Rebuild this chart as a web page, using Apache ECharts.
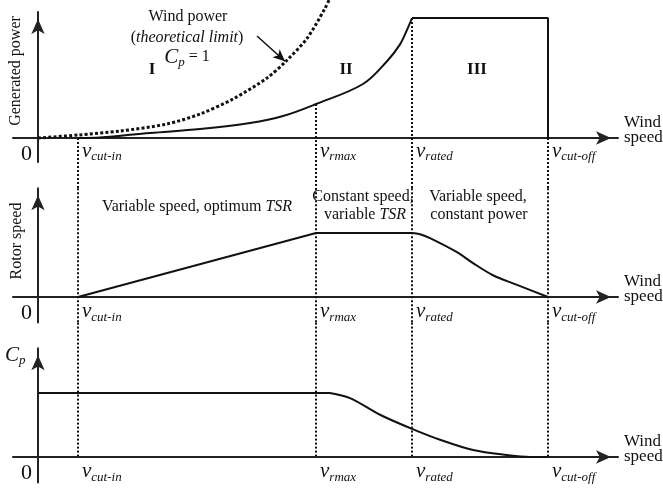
<!DOCTYPE html>
<html>
<head>
<meta charset="utf-8">
<script src="https://cdn.jsdelivr.net/npm/echarts@6/dist/echarts.min.js"></script>
<style>
  html, body { margin: 0; padding: 0; background: #fff; }
  #chart { width: 663px; height: 490px; }
</style>
</head>
<body>
<div id="chart"></div>
<script>
// wind speeds of the operating points (arbitrary units, origin = 0)
const vCutIn = 2.0
const vRmax = 13.9
const vRated = 18.7
const vCutOff = 25.5
const vNames = ['cut-in', 'rmax', 'rated', 'cut-off']

// generated power, 1 = rated power
const windPower = [[0, 0], [2, 0.025], [4.1, 0.058], [6.45, 0.117], [8.1, 0.2], [9.75, 0.325],
  [11.45, 0.5], [12.4, 0.64], [13.45, 0.83], [14.35, 1.08], [14.55, 1.15]]
const powerCurve = [[2, 0], [3.1, 0.004], [5.6, 0.042], [8.1, 0.075], [10.6, 0.125], [12.25, 0.183],
  [13.9, 0.283], [16.25, 0.45], [17.45, 0.64], [18.1, 0.78], [18.5, 0.92], [18.7, 1]]
const ratedPower = [[18.7, 1], [25.5, 1], [25.5, 0]]

// rotor speed, 1 = max rotor speed
const rotorRamp = [[2, 0], [13.9, 1], [18.7, 1]]
const rotorDrop = [[18.7, 1], [19.1, 0.98], [19.6, 0.92], [20.95, 0.7], [21.75, 0.53], [22.75, 0.34],
  [23.95, 0.19], [25.5, 0]]

// power coefficient, 1 = optimum Cp
const cpFlat = [[0, 1], [14.6, 1]]
const cpDrop = [[14.6, 1], [15.6, 0.92], [17.1, 0.66], [18.7, 0.44], [20.1, 0.27], [21.75, 0.11],
  [23.45, 0.03], [24.6, 0], [25.5, 0]]

const serif = 'Liberation Serif'
const ink = '#111'
const rich = {
  v: { fontFamily: serif, fontStyle: 'italic', fontSize: 21, lineHeight: 24, color: ink },
  s: { fontFamily: serif, fontStyle: 'italic', fontSize: 13, lineHeight: 12, verticalAlign: 'bottom', color: ink },
  i: { fontFamily: serif, fontStyle: 'italic', fontSize: 16, color: ink },
  n: { fontFamily: serif, fontSize: 16, color: ink },
  z: { fontFamily: serif, fontSize: 22, padding: [32, 0, 0, 0], color: ink }
}

const panels = [
  { top: 12, height: 150, min: -0.2, max: 1.05 },
  { top: 188.2, height: 134.4, min: -0.4, max: 1.7 },
  { top: 348.2, height: 134.4, min: -0.4, max: 1.7 }
]

const chart = echarts.init(document.getElementById('chart'))

function xAxis(i) {
  return {
    gridIndex: i, type: 'value', min: -1.25, max: 29,
    splitLine: { show: false }, axisTick: { show: false },
    axisLine: { onZero: true, symbol: ['none', 'arrow'], symbolSize: [10, 15], symbolOffset: [0, -7],
      lineStyle: { color: '#222', width: 2 } },
    axisLabel: {
      customValues: [vCutIn, vRmax, vRated, vCutOff], margin: -23, align: 'left',
      formatter: function (val) {
        const k = [vCutIn, vRmax, vRated, vCutOff].indexOf(val)
        return '{v|v}{s|' + vNames[k] + '}'
      },
      padding: [0, 0, 0, 4], rich: rich
    },
    name: 'Wind\nspeed\n ', nameLocation: 'end', nameGap: 6,
    nameTextStyle: { fontFamily: serif, fontSize: 17, lineHeight: 15, color: ink, align: 'left',
      verticalAlign: 'middle' }
  }
}

function yAxis(i) {
  const p = panels[i]
  return {
    gridIndex: i, type: 'value', min: p.min, max: p.max,
    splitLine: { show: false }, axisTick: { show: false },
    axisLine: { onZero: true, symbol: ['none', 'arrow'], symbolSize: [10, 15], symbolOffset: [0, -7],
      lineStyle: { color: '#222', width: 2 } },
    axisLabel: { customValues: [0], margin: -19, formatter: '{z|0}', rich: rich }
  }
}

function curve(i, data, smooth, extra) {
  return Object.assign({
    type: 'line', xAxisIndex: i, yAxisIndex: i, data: data, showSymbol: false, symbol: 'none',
    smooth: smooth, clip: false, silent: true,
    lineStyle: { color: ink, width: 2 }
  }, extra || {})
}

function guide(i, x, y0, y1) {
  return curve(i, [[x, y0], [x, y1]], false, {
    lineStyle: { color: ink, width: 2, type: [2, 2] }
  })
}

const series = [
  curve(0, windPower, 0.3, {
    lineStyle: { color: ink, width: 3, type: [3, 2.2] },
    markLine: {
      silent: true, symbol: ['none', 'arrow'], symbolSize: [8, 12], label: { show: false },
      lineStyle: { color: ink, width: 1.5, type: 'solid' },
      data: [[{ coord: [10.95, 0.85] }, { coord: [12.35, 0.64] }]]
    }
  }),
  curve(0, powerCurve, 0.35),
  curve(0, ratedPower, false),
  guide(0, vCutIn, 0, -0.425),
  guide(0, vRmax, 0.283, -0.425),
  guide(0, vRated, 1, -0.425),
  guide(0, vCutOff, 0, -0.425),
  curve(1, rotorRamp, false),
  curve(1, rotorDrop, 0.35),
  guide(1, vCutIn, 1.7, -0.4),
  guide(1, vRmax, 1.7, -0.4),
  guide(1, vRated, 1.7, -0.4),
  guide(1, vCutOff, 1.7, -0.4),
  curve(2, cpFlat, false),
  curve(2, cpDrop, 0.35),
  guide(2, vCutIn, 2.1, 0),
  guide(2, vRmax, 2.1, 0),
  guide(2, vRated, 2.1, 0),
  guide(2, vCutOff, 2.1, 0)
]

function text(x, y, str, style) {
  return {
    type: 'text', x: x, y: y, silent: true,
    style: Object.assign({ text: str, fontFamily: serif, fontSize: 16, fill: ink,
      align: 'center', verticalAlign: 'middle', rich: rich }, style || {})
  }
}

const graphics = [
  text(188, 17, 'Wind power'),
  text(187, 38, '{n|(}{i|theoretical limit}{n|)}'),
  text(187, 57, '{v|C}{s|p}{n| = 1}'),
  text(152, 70, 'I', { fontWeight: 'bold', fontSize: 17 }),
  text(346, 70, 'II', { fontWeight: 'bold', fontSize: 17 }),
  text(477, 70, 'III', { fontWeight: 'bold', fontSize: 17 }),
  Object.assign(text(16, 71, 'Generated power'), { rotation: Math.PI / 2 }),
  Object.assign(text(17, 241, 'Rotor speed'), { rotation: Math.PI / 2 }),
  text(197, 207, '{n|Variable speed, optimum }{i|TSR}'),
  text(363, 197, 'Constant speed,'),
  text(365, 215, '{n|variable }{i|TSR}'),
  text(478, 197, 'Variable speed,'),
  text(479, 215, 'constant power'),
  text(5, 355, '{v|C}{s|p}', { align: 'left' })
]

chart.setOption({
  animation: false,
  backgroundColor: '#fff',
  grid: panels.map(p => ({ left: 13, right: 45, top: p.top, height: p.height, outerBoundsMode: 'none' })),
  xAxis: [0, 1, 2].map(xAxis),
  yAxis: [0, 1, 2].map(yAxis),
  series: series,
  graphic: graphics
})
</script>
</body>
</html>
